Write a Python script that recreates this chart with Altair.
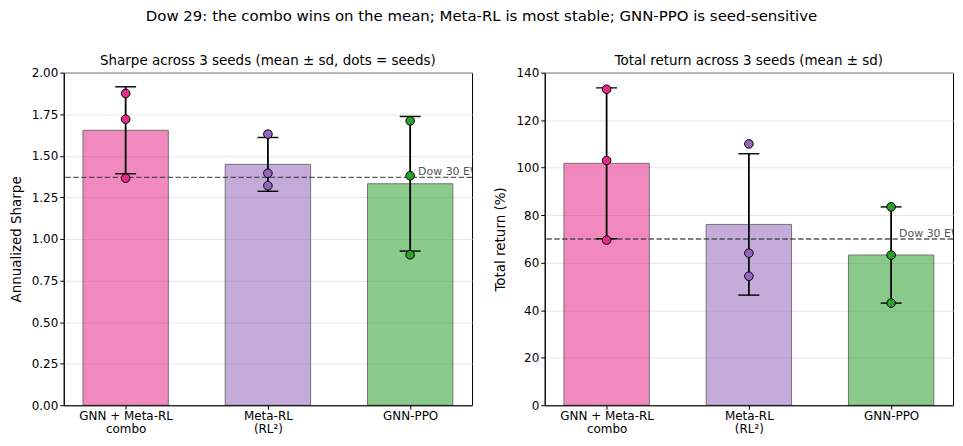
import json
import altair as alt
import pandas as pd

# ---- data ----
methods = ["GNN + Meta-RL combo", "Meta-RL (RL²)", "GNN-PPO"]
tick_labels = [["GNN + Meta-RL", "combo"], ["Meta-RL", "(RL²)"], ["GNN-PPO"]]
seed_ids = [1, 2, 3]
sharpe_seeds = [[1.875, 1.72, 1.365], [1.63, 1.395, 1.32], [1.71, 1.38, 0.905]]
return_seeds = [[133.0, 103.0, 69.5], [110.0, 64.0, 54.3], [83.5, 63.2, 43.0]]
dot_colors = ["#e7298a", "#9467bd", "#2ca02c"]
baseline_sharpe = 1.37
baseline_return = 70.0
baseline_label = "Dow 30 EW"
suptitle = "Dow 29: the combo wins on the mean; Meta-RL is most stable; GNN-PPO is seed-sensitive"
sharpe_title = "Sharpe across 3 seeds (mean ± sd, dots = seeds)"
return_title = "Total return across 3 seeds (mean ± sd)"
sharpe_ticks = [0.0, 0.25, 0.5, 0.75, 1.0, 1.25, 1.5, 1.75, 2.0]
return_ticks = [0, 20, 40, 60, 80, 100, 120, 140]

rows = []
for i, m in enumerate(methods):
    for j, s in enumerate(seed_ids):
        rows.append({"method": m, "xi": i, "seed": s,
                     "sharpe": sharpe_seeds[i][j], "ret": return_seeds[i][j]})
df = pd.DataFrame(rows)

FONT = "DejaVu Sans"
label_expr = json.dumps(tick_labels, ensure_ascii=False) + "[datum.value]"
x_scale = alt.Scale(domain=[-0.435, 2.435], nice=False, zero=False)
fill_scale = alt.Scale(domain=methods, range=dot_colors)


def panel(field, domain, ticks, fmt, ytitle, title, baseline):
    y_scale = alt.Scale(domain=domain, nice=False)
    x_axis = alt.Axis(values=[0, 1, 2], labelExpr=label_expr, grid=False,
                      labelLineHeight=13, labelPadding=1)
    y_axis = alt.Axis(values=ticks, format=fmt, grid=True, titlePadding=8)

    def X(f):
        return alt.X(f, scale=x_scale, axis=x_axis, title=None)

    def Y(f):
        return alt.Y(f, scale=y_scale, axis=y_axis, title=ytitle)

    mn, sd, lo, hi = f"{field}_mean", f"{field}_sd", f"{field}_lo", f"{field}_hi"
    base = alt.Chart(df)
    agg = base.transform_aggregate(
        **{mn: f"mean({field})", sd: f"stdev({field})"}, groupby=["method", "xi"]
    ).transform_calculate(
        **{lo: f"datum.{mn} - datum.{sd}", hi: f"datum.{mn} + datum.{sd}",
           "x0": "datum.xi - 0.3", "x1": "datum.xi + 0.3"}
    )
    bars = agg.mark_bar(opacity=0.55, stroke="black", strokeWidth=1).encode(
        x=X("x0:Q"), x2="x1:Q", y=Y(f"{mn}:Q"), y2=alt.datum(0),
        fill=alt.Fill("method:N", scale=fill_scale, legend=None),
    )
    bdf = pd.DataFrame({"v": [baseline], "xi": [len(methods) - 1], "t": [baseline_label]})
    base_rule = alt.Chart(bdf).mark_rule(
        color="#333333", strokeDash=[5.5, 2.4], strokeWidth=1.4, opacity=0.8
    ).encode(y=Y("v:Q"))
    base_text = alt.Chart(bdf).mark_text(
        align="left", baseline="bottom", dx=8, dy=0, color="#555555",
        fontSize=11, font=FONT, clip=True,
    ).encode(x=X("xi:Q"), y=Y("v:Q"), text="t:N")
    err = agg.mark_rule(color="black", strokeWidth=1.8).encode(
        x=X("xi:Q"), y=Y(f"{lo}:Q"), y2=f"{hi}:Q"
    )
    caps = agg.transform_fold([lo, hi], as_=["k", "cap"]).mark_tick(
        orient="horizontal", size=21, thickness=1.4, color="black", opacity=1
    ).encode(x=X("xi:Q"), y=Y("cap:Q"))
    dots = base.mark_circle(size=75, stroke="black", strokeWidth=1, opacity=1).encode(
        x=X("xi:Q"), y=Y(f"{field}:Q"),
        fill=alt.Fill("method:N", scale=fill_scale, legend=None),
    )
    return alt.layer(bars, base_rule, base_text, err, caps, dots).properties(
        width=410, height=334,
        title=alt.TitleParams(title, fontSize=13.5, font=FONT, fontWeight="normal", offset=-1),
    )


left = panel("sharpe", [0, 2.0], sharpe_ticks, ".2f", "Annualized Sharpe", sharpe_title, baseline_sharpe)
right = panel("ret", [0, 140], return_ticks, "d", "Total return (%)", return_title, baseline_return)

chart = alt.hconcat(left, right, spacing=19).properties(
    title=alt.TitleParams(suptitle, fontSize=15, font=FONT, fontWeight="normal",
                          anchor="middle", offset=30),
    padding={"left": 0, "right": 0, "top": 0, "bottom": 0},
).resolve_scale(fill="shared").configure_view(
    stroke="black", strokeWidth=1
).configure_axis(
    domainColor="black", tickColor="black", labelColor="black",
    labelFont=FONT, labelFontSize=12, titleFont=FONT, titleFontSize=13.5,
    titleFontWeight="normal", titleColor="black", tickSize=4,
    gridColor="#e6e6e6", gridWidth=1,
)

chart.save("out.html", embed_options={"renderer": "svg", "actions": False})
